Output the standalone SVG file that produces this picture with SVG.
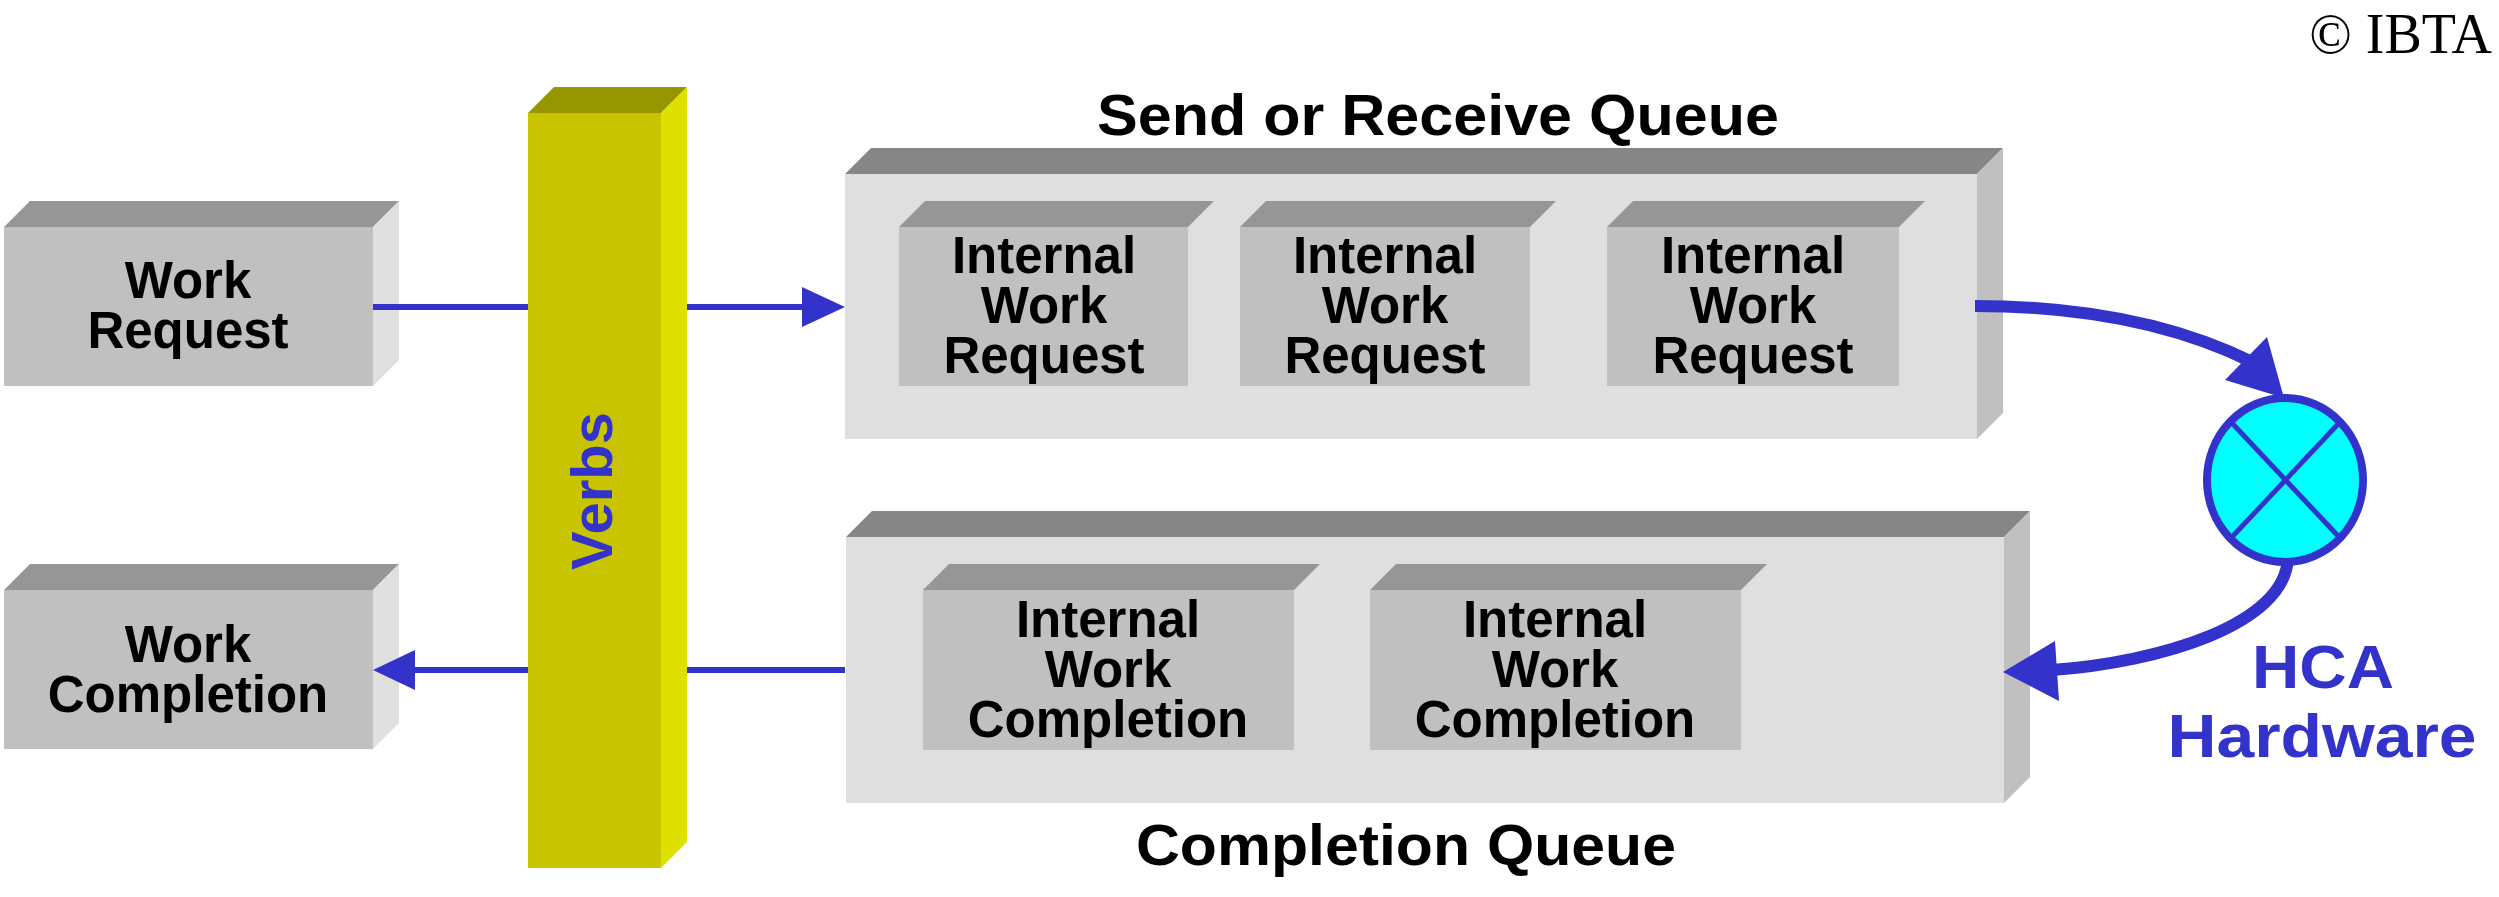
<svg xmlns="http://www.w3.org/2000/svg" width="2499" height="897" viewBox="0 0 2499 897">
<style>
.t{font-family:"Liberation Sans",Arial,sans-serif;font-weight:bold;fill:#000;text-anchor:middle}
.in{font-size:51px}
.ttl{font-size:57px}
.blue{fill:#3333cc}
.gf{fill:#c0c0c0}.gt{fill:#969696}.gr{fill:#e0e0e0}
.qf{fill:#dfdfdf}.qt{fill:#868686}.qr{fill:#c0c0c0}
.ln{stroke:#3333cc;fill:none}
.ah{fill:#3333cc}
</style>
<rect width="2499" height="897" fill="#fff"/>
<text x="2492" y="53" font-family="'Liberation Serif','Times New Roman',serif" font-size="56" text-anchor="end" fill="#000">© IBTA</text>

<g id="work-request">
<rect class="gf" x="4" y="227" width="369" height="159"/>
<polygon class="gt" points="4,227 30,201 399,201 373,227"/>
<polygon class="gr" points="373,227 399,201 399,360 373,386"/>
<text class="t in" x="188" y="298">Work</text>
<text class="t in" x="188" y="348">Request</text>
</g>

<g id="work-completion">
<rect class="gf" x="4" y="590" width="369" height="159"/>
<polygon class="gt" points="4,590 30,564 399,564 373,590"/>
<polygon class="gr" points="373,590 399,564 399,723 373,749"/>
<text class="t in" x="188" y="662">Work</text>
<text class="t in" x="188" y="712">Completion</text>
</g>

<g id="send-receive-queue">
<text class="t ttl" x="1438" y="135" textLength="682" lengthAdjust="spacingAndGlyphs">Send or Receive Queue</text>
<rect class="qf" x="845" y="174" width="1132" height="265"/>
<polygon class="qt" points="845,174 871,148 2003,148 1977,174"/>
<polygon class="qr" points="1977,174 2003,148 2003,413 1977,439"/>
<g id="iwr1">
<rect class="gf" x="899" y="227" width="289" height="159"/>
<polygon class="gt" points="899,227 925,201 1214,201 1188,227"/>
<text class="t in" x="1044" y="273">Internal</text>
<text class="t in" x="1044" y="323">Work</text>
<text class="t in" x="1044" y="373">Request</text>
</g>
<g id="iwr2">
<rect class="gf" x="1240" y="227" width="290" height="159"/>
<polygon class="gt" points="1240,227 1266,201 1556,201 1530,227"/>
<text class="t in" x="1385" y="273">Internal</text>
<text class="t in" x="1385" y="323">Work</text>
<text class="t in" x="1385" y="373">Request</text>
</g>
<g id="iwr3">
<rect class="gf" x="1607" y="227" width="292" height="159"/>
<polygon class="gt" points="1607,227 1633,201 1925,201 1899,227"/>
<text class="t in" x="1753" y="273">Internal</text>
<text class="t in" x="1753" y="323">Work</text>
<text class="t in" x="1753" y="373">Request</text>
</g>
</g>

<g id="completion-queue">
<rect class="qf" x="846" y="537" width="1158" height="266"/>
<polygon class="qt" points="846,537 872,511 2030,511 2004,537"/>
<polygon class="qr" points="2004,537 2030,511 2030,777 2004,803"/>
<g id="iwc1">
<rect class="gf" x="923" y="590" width="371" height="160"/>
<polygon class="gt" points="923,590 949,564 1320,564 1294,590"/>
<text class="t in" x="1108" y="637">Internal</text>
<text class="t in" x="1108" y="687">Work</text>
<text class="t in" x="1108" y="737">Completion</text>
</g>
<g id="iwc2">
<rect class="gf" x="1370" y="590" width="371" height="160"/>
<polygon class="gt" points="1370,590 1396,564 1767,564 1741,590"/>
<text class="t in" x="1555" y="637">Internal</text>
<text class="t in" x="1555" y="687">Work</text>
<text class="t in" x="1555" y="737">Completion</text>
</g>
<text class="t ttl" x="1406" y="865" textLength="540" lengthAdjust="spacingAndGlyphs">Completion Queue</text>
</g>

<g id="connectors">
<line class="ln" x1="373" y1="307" x2="805" y2="307" stroke-width="6"/>
<polygon class="ah" points="845,307 802,287 802,327"/>
<line class="ln" x1="845" y1="670" x2="412" y2="670" stroke-width="6"/>
<polygon class="ah" points="373,670 415,650 415,690"/>
<path class="ln" d="M1975,306 C2080,306 2175,324 2252,362" stroke-width="12"/>
<polygon class="ah" points="2284,398 2225,380 2267,337"/>
<path class="ln" d="M2288,558 C2285,625 2160,662 2052,670" stroke-width="12"/>
<polygon class="ah" points="2003,672 2055,641 2059,701"/>
</g>

<g id="hca-hardware">
<ellipse cx="2285" cy="480" rx="78" ry="82" fill="#00ffff" stroke="#3333cc" stroke-width="8"/>
<line x1="2231" y1="422" x2="2340" y2="538" stroke="#3333cc" stroke-width="5"/>
<line x1="2340" y1="422" x2="2231" y2="538" stroke="#3333cc" stroke-width="5"/>
<text class="t blue" x="2323" y="688" font-size="62" textLength="142" lengthAdjust="spacingAndGlyphs">HCA</text>
<text class="t blue" x="2322" y="757" font-size="62" textLength="309" lengthAdjust="spacingAndGlyphs">Hardware</text>
</g>

<g id="verbs">
<rect x="528" y="113" width="133" height="755" fill="#c8c400"/>
<polygon points="528,113 554,87 687,87 661,113" fill="#969600"/>
<polygon points="661,113 687,87 687,842 661,868" fill="#e0e000"/>
<text class="t blue" transform="translate(612,491) rotate(-90)" x="0" y="0" font-size="58">Verbs</text>
</g>
</svg>
